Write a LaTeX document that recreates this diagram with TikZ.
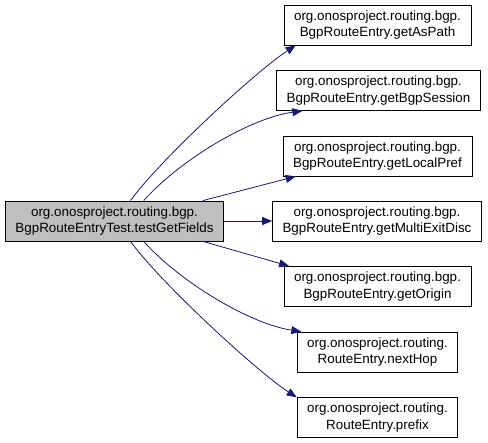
\documentclass[tikz,border=0pt]{standalone}
\usepackage{fontspec}
\setmainfont{Liberation Sans}
\usepackage{tikz}
\usetikzlibrary{arrows.meta}
\definecolor{azuldox}{RGB}{25,25,112}
\tikzset{
  caja/.style={draw=black,line width=0.8pt,fill=white,align=center,minimum height=40pt,inner xsep=10pt,inner ysep=0pt,font=\fontsize{13.4}{16.5}\selectfont},
  actual/.style={caja,fill=gray!50},
  llamada/.style={draw=azuldox,line width=0.8pt,-{Triangle[length=10pt,width=8pt]},fill=none}
}
\begin{document}
\begin{tikzpicture}[x=1pt,y=-1pt]
\useasboundingbox (0,0) rectangle (488,443);
\node[actual] (test) at (114.5,221) {org.onosproject.routing.bgp.\\BgpRouteEntryTest.testGetFields};
\node[caja] (aspath) at (377.5,25) {org.onosproject.routing.bgp.\\BgpRouteEntry.getAsPath};
\node[caja] (session) at (378.5,90.5) {org.onosproject.routing.bgp.\\BgpRouteEntry.getBgpSession};
\node[caja] (localpref) at (377.5,156) {org.onosproject.routing.bgp.\\BgpRouteEntry.getLocalPref};
\node[caja] (med) at (377,221) {org.onosproject.routing.bgp.\\BgpRouteEntry.getMultiExitDisc};
\node[caja] (origin) at (377.5,286.5) {org.onosproject.routing.bgp.\\BgpRouteEntry.getOrigin};
\node[caja] (nexthop) at (377.5,352) {org.onosproject.routing.\\RouteEntry.nextHop};
\node[caja] (prefix) at (377.5,417.5) {org.onosproject.routing.\\RouteEntry.prefix};
% llamadas desde el test
\draw[llamada] (test.52) .. controls (160,160) and (255,72) .. (aspath.194);
\draw[llamada] (test.35) .. controls (180,160) and (250,118) .. (session.195);
\draw[llamada] (test.13.6) -- (localpref.194);
\draw[llamada] (test.east) -- (med.west);
\draw[llamada] (test.-13.6) -- (origin.167);
\draw[llamada] (test.-35) .. controls (180,282) and (250,324) .. (nexthop.165);
\draw[llamada] (test.-52) .. controls (160,282) and (255,370) .. (prefix.166);
\end{tikzpicture}
\end{document}
